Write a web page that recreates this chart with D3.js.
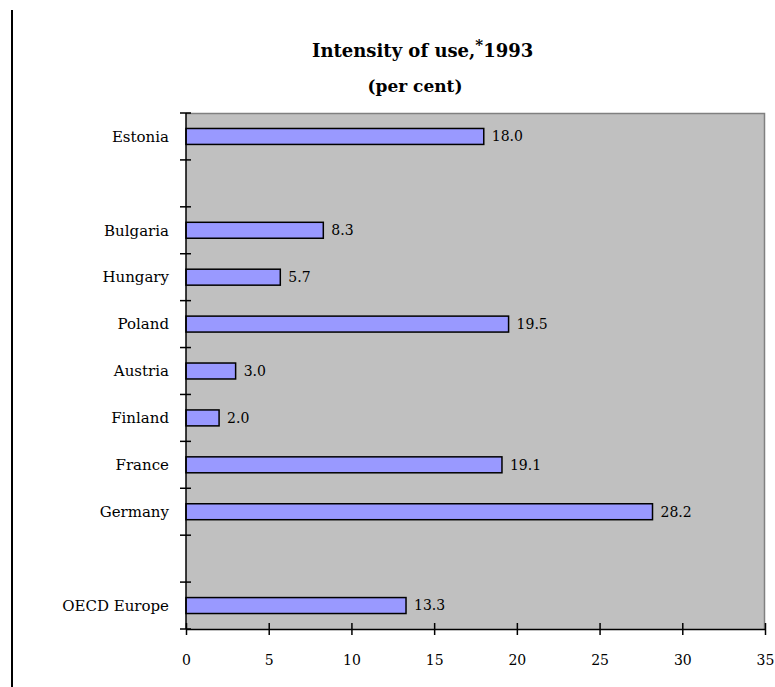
<!DOCTYPE html>
<html>
<head>
<meta charset="utf-8">
<script src="https://cdn.jsdelivr.net/npm/d3@7"></script>
<style>
  html, body { margin: 0; padding: 0; background: #fff; }
  svg { display: block; }
  text { font-family: "DejaVu Serif", "Liberation Serif", serif; fill: #000; }
</style>
</head>
<body>
<svg id="chart" width="775" height="687"></svg>
<script>
// Categories top to bottom; blank slots separate the groups
const categories = ["Estonia", " ", "Bulgaria", "Hungary", "Poland", "Austria", "Finland", "France", "Germany", "  ", "OECD Europe"];
const values = [18.0, null, 8.3, 5.7, 19.5, 3.0, 2.0, 19.1, 28.2, null, 13.3];
const xTicks = [0, 5, 10, 15, 20, 25, 30, 35];

const svg = d3.select("#chart");
const margin = { left: 186, right: 10, top: 113, bottom: 58 };
const W = 775, H = 687;
const plotW = W - margin.left - margin.right;
const plotH = H - margin.top - margin.bottom;

// Page border line at the left
svg.append("line")
  .attr("x1", 12).attr("x2", 12).attr("y1", 10).attr("y2", H)
  .attr("stroke", "#000").attr("stroke-width", 2);

// Title
const title = svg.append("text")
  .attr("x", 312).attr("y", 57)
  .attr("font-size", 18).attr("font-weight", "bold");
title.append("tspan").text("Intensity of use,");
title.append("tspan").attr("dy", -7).attr("font-size", 15).text("*");
title.append("tspan").attr("dy", 7).text("1993");

svg.append("text")
  .attr("x", 415).attr("y", 92)
  .attr("text-anchor", "middle")
  .attr("font-size", 17).attr("font-weight", "bold")
  .text("(per cent)");

const g = svg.append("g").attr("transform", `translate(${margin.left},${margin.top})`);

const x = d3.scaleLinear().domain([0, 35]).range([0, plotW]);
const y = d3.scaleBand().domain(categories).range([0, plotH]).paddingInner(0.66).paddingOuter(0.33);
const yEdges = d3.scaleLinear().domain([0, categories.length]).range([0, plotH]);

// Plot area background
g.append("rect")
  .attr("x", 0).attr("y", 0).attr("width", plotW).attr("height", plotH)
  .attr("fill", "#c0c0c0");
g.append("path")
  .attr("d", `M0,0.5H${plotW - 0.5}V${plotH}`)
  .attr("fill", "none").attr("stroke", "#808080").attr("stroke-width", 1.5);

// Bars
const data = categories.map((c, i) => ({ c, v: values[i] })).filter(d => d.v != null);
g.selectAll("rect.bar").data(data).join("rect")
  .attr("class", "bar")
  .attr("x", x(0))
  .attr("y", d => y(d.c))
  .attr("width", d => x(d.v) - x(0))
  .attr("height", y.bandwidth())
  .attr("fill", "#9999ff")
  .attr("stroke", "#000").attr("stroke-width", 1.5);

// Value labels
g.selectAll("text.val").data(data).join("text")
  .attr("class", "val")
  .attr("x", d => x(d.v) + 8)
  .attr("y", d => y(d.c) + y.bandwidth() / 2)
  .attr("dy", "0.35em")
  .attr("font-size", 14)
  .text(d => d.v.toFixed(1));

// Category axis: ticks at band boundaries crossing the axis line
g.append("line").attr("x1", 0).attr("x2", 0).attr("y1", 0).attr("y2", plotH)
  .attr("stroke", "#000").attr("stroke-width", 1.5);
g.selectAll("line.ytick").data(d3.range(categories.length + 1)).join("line")
  .attr("class", "ytick")
  .attr("x1", -6).attr("x2", 5)
  .attr("y1", d => yEdges(d)).attr("y2", d => yEdges(d))
  .attr("stroke", "#000").attr("stroke-width", 1.5);
g.selectAll("text.cat").data(categories).join("text")
  .attr("class", "cat")
  .attr("x", -17)
  .attr("y", d => y(d) + y.bandwidth() / 2)
  .attr("dy", "0.35em")
  .attr("text-anchor", "end")
  .attr("font-size", 15)
  .text(d => d.trim());

// Value axis
const xAxis = d3.axisBottom(x).tickValues(xTicks).tickSize(0).tickPadding(26).tickFormat(d3.format("d"));
const xa = g.append("g").attr("transform", `translate(0,${plotH})`).call(xAxis);
xa.select(".domain").attr("stroke", "#000").attr("stroke-width", 1.5);
xa.selectAll(".tick text").attr("font-size", 14).attr("font-family", "DejaVu Serif, Liberation Serif, serif");
xa.selectAll(".tick").append("line")
  .attr("y1", -6).attr("y2", 6)
  .attr("stroke", "#000").attr("stroke-width", 1.5);
</script>
</body>
</html>
